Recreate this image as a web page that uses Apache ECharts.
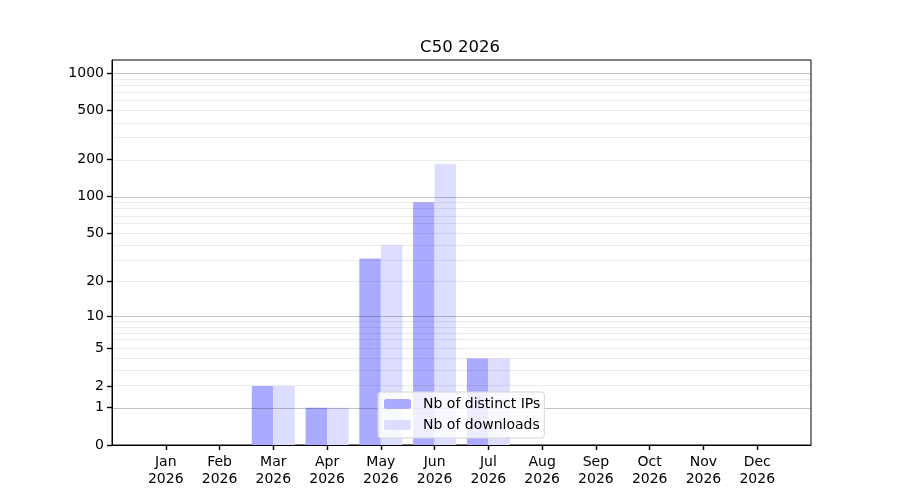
<!DOCTYPE html>
<html>
<head>
<meta charset="utf-8">
<script src="https://cdn.jsdelivr.net/npm/echarts@6/dist/echarts.min.js"></script>
<style>
  html, body { margin: 0; padding: 0; background: #fff; }
  #chart { width: 900px; height: 500px; }
</style>
</head>
<body>
<div id="chart"></div>
<script>
// data
var months = ['Jan', 'Feb', 'Mar', 'Apr', 'May', 'Jun', 'Jul', 'Aug', 'Sep', 'Oct', 'Nov', 'Dec'];
var year = '2026';
var distinctIPs = [0, 0, 2, 1, 31, 90, 4, 0, 0, 0, 0, 0];
var downloads = [0, 0, 2, 1, 40, 184, 4, 0, 0, 0, 0, 0];
var yTicks = [0, 1, 2, 5, 10, 20, 50, 100, 200, 500, 1000];
var majorGrid = [1, 10, 100, 1000];
var minorGrid = [2, 3, 4, 5, 6, 7, 8, 9, 20, 30, 40, 50, 60, 70, 80, 90, 200, 300, 400, 500, 600, 700, 800, 900];

// the y scale is log10(1 + x)
function sc(v) { return Math.log10(1 + v); }

var monthIdx = months.map(function (m, i) { return i; });

var gridLines = [];
minorGrid.forEach(function (v) {
    gridLines.push({ yAxis: sc(v), lineStyle: { color: 'rgba(0,0,0,0.08)', width: 1, type: 'solid' } });
});
majorGrid.forEach(function (v) {
    gridLines.push({ yAxis: sc(v), lineStyle: { color: 'rgba(0,0,0,0.23)', width: 1, type: 'solid' } });
});

var myChart = echarts.init(document.getElementById('chart'));

var option = {
    animation: false,
    textStyle: { fontFamily: 'DejaVu Sans' },
    title: {
        text: 'C50 ' + year,
        left: 455,
        top: 34,
        textAlign: 'center',
        textStyle: { fontFamily: 'DejaVu Sans', fontSize: 16.5, fontWeight: 'normal', color: '#000' }
    },
    legend: {
        orient: 'vertical',
        left: 378,
        top: 392,
        padding: [5, 4, 6, 6],
        itemWidth: 27,
        itemHeight: 10,
        itemGap: 7,
        backgroundColor: 'rgba(255,255,255,0.8)',
        borderColor: '#d5d5d5',
        borderWidth: 1,
        borderRadius: 3,
        z: 10,
        textStyle: { fontFamily: 'DejaVu Sans', fontSize: 14, color: '#000', padding: [0, 0, 0, 7] },
        data: ['Nb of distinct IPs', 'Nb of downloads']
    },
    grid: {
        left: 112,
        right: 89,
        top: 60,
        bottom: 55,
        show: true,
        borderColor: '#000',
        borderWidth: 1,
        backgroundColor: 'transparent'
    },
    xAxis: {
        type: 'value',
        min: -1,
        max: 12,
        interval: 1,
        splitLine: { show: false },
        axisLine: { onZero: false, lineStyle: { color: '#000', width: 1 } },
        axisTick: { show: true, customValues: monthIdx, length: 5, lineStyle: { color: '#000', width: 1.4 } },
        axisLabel: {
            customValues: monthIdx,
            margin: 9,
            fontFamily: 'DejaVu Sans',
            fontSize: 14,
            lineHeight: 17,
            color: '#000',
            formatter: function (v) {
                var i = Math.round(v);
                return months[i] + '\n' + year;
            }
        }
    },
    yAxis: {
        type: 'value',
        position: 'left',
        min: 0,
        max: 3.107,
        splitLine: { show: false },
        axisLine: { show: true, onZero: false, lineStyle: { color: '#000', width: 1 } },
        axisTick: {
            show: true,
            inside: false,
            customValues: yTicks.map(sc),
            length: 5,
            lineStyle: { color: '#000', width: 1.4 }
        },
        axisLabel: {
            customValues: yTicks.map(sc),
            margin: 8,
            fontFamily: 'DejaVu Sans',
            fontSize: 14,
            color: '#000',
            formatter: function (v) {
                return String(Math.round(Math.pow(10, v) - 1));
            }
        }
    },
    series: [
        {
            name: 'grid',
            type: 'scatter',
            z: 4,
            silent: true,
            symbolSize: 0,
            data: [[0, 0]],
            markLine: {
                silent: true,
                z: 5,
                symbol: ['none', 'none'],
                label: { show: false },
                data: gridLines
            }
        },
        {
            name: 'Nb of distinct IPs',
            type: 'bar',
            z: 2,
            barWidth: 21.5,
            barGap: '0%',
            itemStyle: { color: '#aaaaff' },
            data: distinctIPs.map(function (v, i) { return [i, sc(v)]; })
        },
        {
            name: 'Nb of downloads',
            type: 'bar',
            z: 2,
            barWidth: 21.5,
            barGap: '0%',
            itemStyle: { color: '#ddddff' },
            data: downloads.map(function (v, i) { return [i, sc(v)]; })
        }
    ]
};

myChart.setOption(option);
</script>
</body>
</html>
